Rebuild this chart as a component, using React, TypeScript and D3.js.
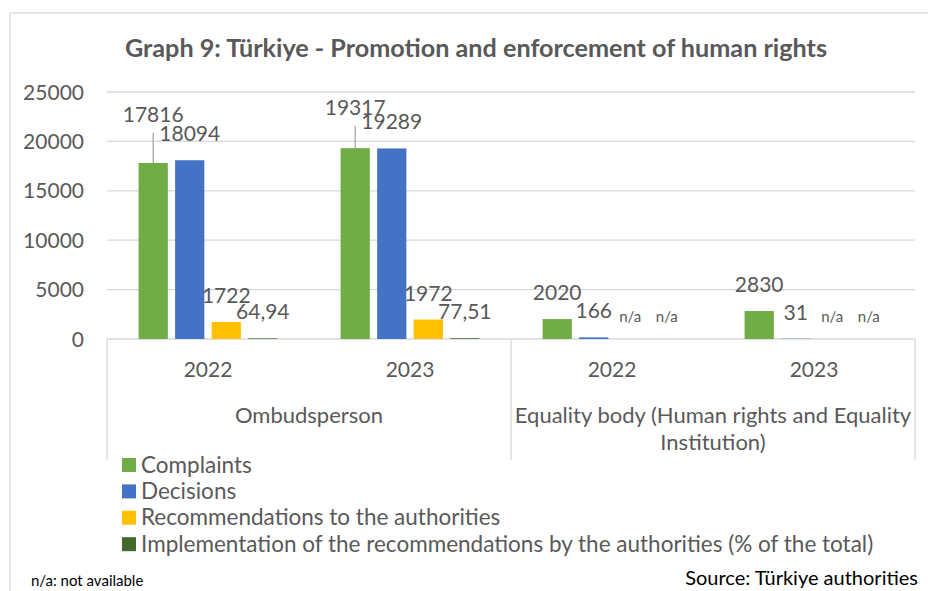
import React from "react";
import * as d3 from "d3";

// ---------- data ----------
const groups = ["Ombudsperson", "Equality body"];
const groupLabelLines = [["Ombudsperson"], ["Equality body (Human rights and Equality", "Institution)"]];
const years = ["2022", "2023"];
const seriesNames = [
  "Complaints",
  "Decisions",
  "Recommendations to the authorities",
  "Implementation of the recommendations by the authorities (% of the total)",
];
const complaints = [17816, 19317, 2020, 2830];
const decisions = [18094, 19289, 166, 31];
const recommendations: (number | null)[] = [1722, 1972, null, null];
const implementation: (number | null)[] = [64.94, 77.51, null, null];
const yTicks = [0, 5000, 10000, 15000, 20000, 25000];
const title = "Graph 9: Türkiye - Promotion and enforcement of human rights";
const note = "n/a: not available";
const source = "Source: Türkiye authorities";

// label lifts (px) where labels were moved up with leader lines
const labelLift: Record<string, number> = { "0-0": 22, "0-1": 14 };

// ---------- styles ----------
const colors = ["#70AD47", "#4472C4", "#FFC000", "#43682B"];
const textColor = "#595959";
const gridColor = "#D9D9D9";
const FONT = "Lato, 'Open Sans', sans-serif";
const FS = 22;
const FS_NUM = 21;

export default function App() {
  const W = 928, H = 591;
  const left = 107, right = 915, top = 92, bottom = 339;
  const series = [complaints, decisions, recommendations, implementation];
  const categories = groups.flatMap((g) => years.map((y) => `${g}|${y}`));

  const x0 = d3.scaleBand<string>().domain(categories).range([left, right]).padding(0);
  const x1 = d3
    .scaleBand<number>()
    .domain(d3.range(series.length))
    .range([0, x0.bandwidth()])
    .paddingInner(0.2)
    .paddingOuter(0.865);
  const y = d3.scaleLinear().domain([0, 25000]).range([bottom, top]);

  const fmt = (v: number) => String(v).replace(".", ",");
  const groupW = x0.bandwidth() * years.length;

  return (
    <svg
      width={W}
      height={H}
      style={{ position: "fixed", left: 0, top: 0, background: "#fff" }}
      fontFamily={FONT}
    >
      <rect x={10} y={13} width={1000} height={700} fill="#fff" stroke={gridColor} strokeWidth={1.3} />
      <text x={476} y={57} textAnchor="middle" fontSize={25.2} fontWeight="bold" fill={textColor}>
        {title}
      </text>

      {/* grid */}
      {yTicks.map((t) => (
        <g key={t}>
          {t > 0 && <line x1={left} x2={right} y1={y(t)} y2={y(t)} stroke={gridColor} strokeWidth={1.3} />}
          <text x={84} y={y(t) + 7.5} textAnchor="end" fontSize={FS_NUM} fill={textColor}>
            {t}
          </text>
        </g>
      ))}

      {/* category axis */}
      <line x1={left} x2={right} y1={bottom} y2={bottom} stroke={gridColor} strokeWidth={1.3} />
      {d3.range(groups.length + 1).map((i) => (
        <line
          key={i}
          x1={left + i * groupW}
          x2={left + i * groupW}
          y1={bottom}
          y2={460}
          stroke={gridColor}
          strokeWidth={1.3}
        />
      ))}
      {categories.map((c) => (
        <text
          key={c}
          x={(x0(c) as number) + x0.bandwidth() / 2}
          y={377}
          textAnchor="middle"
          fontSize={FS_NUM}
          fill={textColor}
        >
          {c.split("|")[1]}
        </text>
      ))}
      {groupLabelLines.map((lines, gi) => (
        <text key={gi} textAnchor="middle" fontSize={FS} fill={textColor}>
          {lines.map((ln, li) => (
            <tspan key={li} x={left + gi * groupW + groupW / 2} y={423 + li * 27}>
              {ln}
            </tspan>
          ))}
        </text>
      ))}

      {/* bars */}
      {series.map((vals, si) =>
        vals.map((v, ci) => {
          const cx = (x0(categories[ci]) as number) + (x1(si) as number);
          const bw = x1.bandwidth();
          const mid = cx + bw / 2;
          if (v === null) {
            return (
              <text key={`${si}-${ci}`} x={mid} y={bottom - 17} textAnchor="middle" fontSize={15} fill={textColor}>
                n/a
              </text>
            );
          }
          const yt = y(v);
          const lift = labelLift[`${si}-${ci}`] || 0;
          const ly = yt - 19 - lift;
          return (
            <g key={`${si}-${ci}`}>
              <rect x={cx} y={yt} width={bw} height={Math.max(bottom - yt, 0)} fill={colors[si]} />
              {lift > 0 && <line x1={mid} x2={mid} y1={ly + 11} y2={yt} stroke="#A6A6A6" strokeWidth={1.3} />}
              <text x={mid} y={ly} textAnchor="middle" fontSize={FS_NUM} fill={textColor}>
                {fmt(v)}
              </text>
            </g>
          );
        })
      )}

      {/* legend */}
      {seriesNames.map((n, i) => (
        <g key={n} transform={`translate(122, ${465 + i * 26.4})`}>
          <rect x={0} y={-7} width={14} height={14} fill={colors[i]} />
          <text x={19} y={7.5} fontSize={22.5} fill={textColor}>
            {n}
          </text>
        </g>
      ))}

      <text x={31} y={586} fontSize={15} fill="#000">
        {note}
      </text>
      <text x={918} y={585} textAnchor="end" fontSize={20} fill="#000">
        {source}
      </text>
    </svg>
  );
}
